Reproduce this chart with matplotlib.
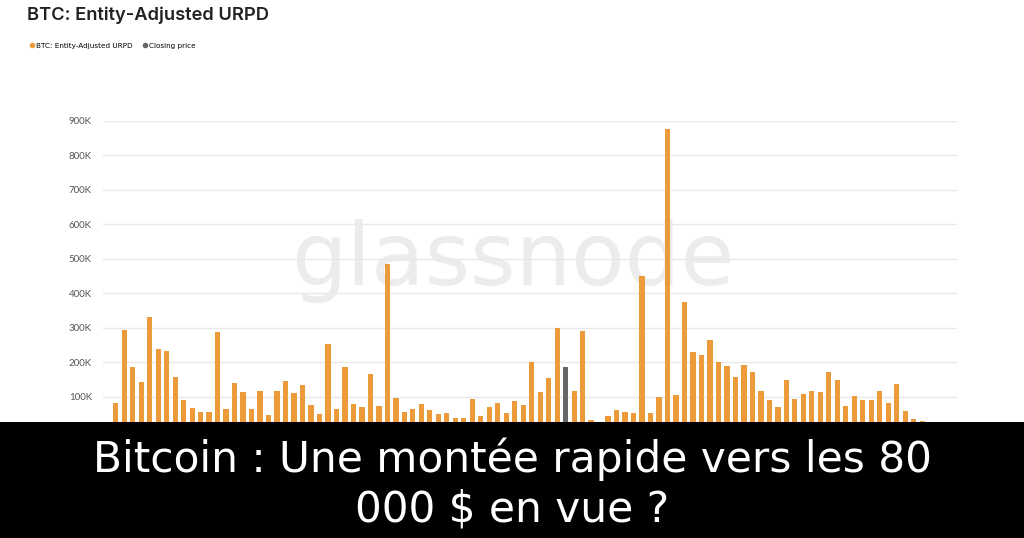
import matplotlib
matplotlib.use("Agg")
import matplotlib.pyplot as plt
from matplotlib.lines import Line2D
from matplotlib.patches import Rectangle

# entity-adjusted URPD, supply per price bucket (thousands of BTC)
supply_k = [
    82, 293, 185, 142, 332, 237, 233, 158, 90, 66,
    54, 54, 286, 65, 139, 113, 65, 117, 46, 117,
    145, 110, 134, 75, 49, 253, 65, 185, 78, 69,
    165, 73, 485, 97, 56, 64, 78, 60, 49, 53,
    37, 37, 93, 45, 69, 80, 53, 87, 75, 200,
    112, 155, 300, 185, 116, 290, 32, 15, 45, 61,
    54, 53, 451, 53, 100, 877, 105, 375, 229, 220,
    265, 200, 190, 156, 193, 172, 116, 89, 69, 148,
    93, 108, 117, 113, 172, 148, 74, 102, 90, 90,
    117, 81, 137, 57, 34, 29,
]
close_bucket = 53  # bucket holding the closing price
y_ticks = [100, 200, 300, 400, 500, 600, 700, 800, 900]
y_labels = ["100K", "200K", "300K", "400K", "500K", "600K", "700K", "800K", "900K"]

title = "BTC: Entity-Adjusted URPD"
legend_labels = ["BTC: Entity-Adjusted URPD", "Closing price"]
caption = ["Bitcoin : Une montée rapide vers les 80", "000 $ en vue ?"]

orange = "#ec9a3a"
grey = "#666666"

fig = plt.figure(figsize=(10.24, 5.38), dpi=100)
fig.patch.set_facecolor("white")

ax = fig.add_axes([103 / 1024, 107 / 538, 854 / 1024, 310 / 538])
x = list(range(len(supply_k)))
vals = [v * 1000 for v in supply_k]
colors = [grey if i == close_bucket else orange for i in x]
ax.bar(x, vals, width=0.62, color=colors, zorder=3)

ax.set_xlim(-1.5, 99.1)
ax.set_ylim(0, 900000)
ax.set_yticks([t * 1000 for t in y_ticks])
ax.set_yticklabels(y_labels)
ax.set_xticks([])
ax.tick_params(axis="y", length=0, pad=8, labelsize=7, labelcolor="#555555")
for lab in ax.get_yticklabels():
    lab.set_family("Lato")
ax.grid(axis="y", color="#e9e9e9", lw=1, zorder=1)
for s in ax.spines.values():
    s.set_visible(False)

# watermark, kept behind the bars
ax.text(513 / 1024, 1 - 285 / 538, "glassnode", transform=fig.transFigure,
        ha="center", va="baseline", fontsize=63, family="DejaVu Sans",
        color="#ececec", zorder=0.5)

fig.text(27 / 1024, 1 - 15 / 538, title, fontsize=13.2, family="Inter",
         weight="semibold", color="#222222", va="center", ha="left")

handles = [Line2D([], [], marker="o", ls="", color=orange, markersize=3),
           Line2D([], [], marker="o", ls="", color=grey, markersize=3)]
fig.legend(handles, legend_labels, loc="center left",
           bbox_to_anchor=(22 / 1024, 1 - 46 / 538), ncol=2, frameon=False,
           fontsize=5.2, handletextpad=0.1, columnspacing=1.1, handlelength=1)

# caption banner
fig.patches.append(Rectangle((0, 0), 1, (538 - 422) / 538, transform=fig.transFigure,
                             facecolor="black", edgecolor="none", zorder=10))
fig.text(0.5, 1 - 472 / 538, caption[0], ha="center", va="baseline", fontsize=30.4,
         family="DejaVu Sans", color="white", zorder=11)
fig.text(0.5, 1 - 521 / 538, caption[1], ha="center", va="baseline", fontsize=30.4,
         family="DejaVu Sans", color="white", zorder=11)

fig.savefig("out.png", dpi=100)
